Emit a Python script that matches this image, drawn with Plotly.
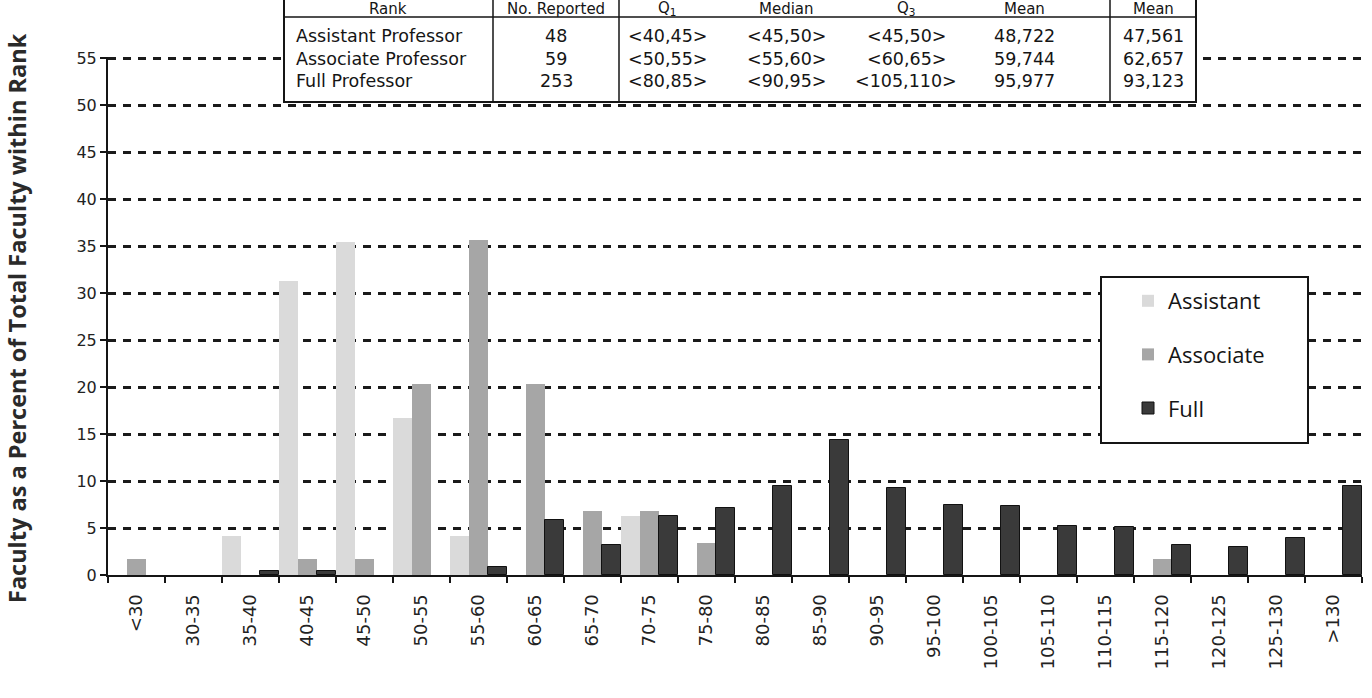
import html
import plotly.graph_objects as go

# Salary bands (thousands of dollars)
categories = ["<30", "30-35", "35-40", "40-45", "45-50", "50-55", "55-60", "60-65",
              "65-70", "70-75", "75-80", "80-85", "85-90", "90-95", "95-100",
              "100-105", "105-110", "110-115", "115-120", "120-125", "125-130", ">130"]

# Percent of faculty within each rank
assistant = [0, 0, 4.2, 31.3, 35.4, 16.7, 4.2, 0, 0, 6.3, 0,
             0, 0, 0, 0, 0, 0, 0, 0, 0, 0, 0]
associate = [1.7, 0, 0, 1.7, 1.7, 20.3, 35.6, 20.3, 6.8, 6.8, 3.4,
             0, 0, 0, 0, 0, 0, 0, 1.7, 0, 0, 0]
full = [0, 0, 0.4, 0.4, 0, 0, 0.8, 5.9, 3.2, 6.3, 7.1,
        9.5, 14.4, 9.3, 7.5, 7.3, 5.2, 5.1, 3.2, 3.0, 3.9, 9.5]

series_names = ["Assistant", "Associate", "Full"]
series_colors = ["#dadada", "#a6a6a6", "#3a3a3a"]

y_ticks = list(range(0, 56, 5))

# Summary table
table_header = ["Rank", "No. Reported", "Q<sub>1</sub>", "Median", "Q<sub>3</sub>", "Mean", "Mean"]
table_ranks = ["Assistant Professor", "Associate Professor", "Full Professor"]
table_counts = ["48", "59", "253"]
table_q1 = ["<40,45>", "<50,55>", "<80,85>"]
table_median = ["<45,50>", "<55,60>", "<90,95>"]
table_q3 = ["<45,50>", "<60,65>", "<105,110>"]
table_mean = ["48,722", "59,744", "95,977"]
table_mean2 = ["47,561", "62,657", "93,123"]

W, H = 1372, 698
ML, MR, MT, MB = 108, 10, 57, 123
PW = W - ML - MR
PH = H - MT - MB
FONT = "Open Sans, Noto Sans, sans-serif"
TABLE_FONT = "DejaVu Sans, sans-serif"
INK = "#151515"


def px_x(p):
    return (p - ML) / PW


def px_y(p):
    return (H - MB - p) / PH


fig = go.Figure()
for name, vals, color in zip(series_names, [assistant, associate, full], series_colors):
    is_full = name == "Full"
    fig.add_trace(go.Bar(
        x=categories,
        y=[v if v > 0 else None for v in vals],
        name=name, legendgroup=name,
        marker=dict(color=color,
                    line=dict(color="#111111" if is_full else color, width=1 if is_full else 0)),
    ))

shapes = []
annotations = []

# Table frame and rules
tx0, tx1, ty_top, ty_bot = 284, 1196, -10, 102
shapes.append(dict(type="rect", xref="paper", yref="paper",
                   x0=px_x(tx0), x1=px_x(tx1), y0=px_y(ty_bot), y1=px_y(ty_top),
                   fillcolor="white", line=dict(color=INK, width=2), layer="above"))
for vx in [493, 619, 1110]:
    shapes.append(dict(type="line", xref="paper", yref="paper",
                       x0=px_x(vx), x1=px_x(vx), y0=px_y(ty_bot), y1=px_y(ty_top),
                       line=dict(color=INK, width=1.5), layer="above"))
shapes.append(dict(type="line", xref="paper", yref="paper",
                   x0=px_x(tx0), x1=px_x(tx1), y0=px_y(17), y1=px_y(17),
                   line=dict(color=INK, width=1.5), layer="above"))

header_font = dict(family=TABLE_FONT, size=15, color=INK)
cell_font = dict(family=TABLE_FONT, size=17.5, color=INK)
col_centers = [388, 556, 667, 786, 906, 1024, 1153]
for cx, label in zip(col_centers, table_header):
    annotations.append(dict(xref="paper", yref="paper", x=px_x(cx), y=px_y(9),
                            text=label, showarrow=False, font=header_font,
                            xanchor="center", yanchor="middle"))

row_ys = [36, 58.5, 81]
columns = [table_counts, table_q1, table_median, table_q3, table_mean, table_mean2]
for r, ry in enumerate(row_ys):
    annotations.append(dict(xref="paper", yref="paper", x=px_x(294), y=px_y(ry),
                            text=html.escape(table_ranks[r]), showarrow=False, font=cell_font,
                            xanchor="left", yanchor="middle"))
    for cx, col in zip(col_centers[1:], columns):
        annotations.append(dict(xref="paper", yref="paper", x=px_x(cx), y=px_y(ry),
                                text=html.escape(col[r]), showarrow=False, font=cell_font,
                                xanchor="center", yanchor="middle"))

# Legend frame
shapes.append(dict(type="rect", xref="paper", yref="paper",
                   x0=px_x(1101), x1=px_x(1308), y0=px_y(443), y1=px_y(277),
                   fillcolor="white", line=dict(color=INK, width=2), layer="above"))

# Y-axis title
annotations.append(dict(xref="paper", yref="paper", x=px_x(17), y=px_y(318),
                        text="<b>Faculty as a Percent of Total Faculty within Rank</b>",
                        textangle=-90, showarrow=False,
                        font=dict(family=FONT, size=23.5, color="#2a2a2a"),
                        xanchor="center", yanchor="middle"))

fig.update_layout(
    width=W, height=H,
    margin=dict(l=ML, r=MR, t=MT, b=MB, pad=0),
    paper_bgcolor="white", plot_bgcolor="white",
    barmode="group", bargap=0, bargroupgap=0,
    showlegend=True,
    legend=dict(x=px_x(1128), y=px_y(280), xanchor="left", yanchor="top",
                bgcolor="rgba(0,0,0,0)", borderwidth=0,
                font=dict(family=FONT, size=22, color=INK),
                tracegroupgap=22, traceorder="grouped"),
    shapes=shapes,
    annotations=annotations,
    xaxis=dict(
        type="category", categoryorder="array", categoryarray=categories,
        tickson="boundaries", ticks="outside", ticklen=6, tickwidth=2, tickcolor=INK,
        tickangle=-90, showline=True, linecolor=INK, linewidth=2,
        showgrid=False, zeroline=False, ticklabelstandoff=10,
        tickfont=dict(family="DejaVu Sans, sans-serif", size=18, color="#222222"),
        range=[-0.5, len(categories) - 0.5],
    ),
    yaxis=dict(
        range=[0, 55.12], tickvals=y_ticks, ticks="outside", ticklen=6, tickwidth=2,
        tickcolor=INK, showline=True, linecolor=INK, linewidth=2,
        showgrid=True, gridcolor="#1a1a1a", gridwidth=3, griddash="8px,7px",
        zeroline=False,
        tickfont=dict(family="DejaVu Sans, sans-serif", size=16, color="#222222"),
    ),
)

fig.write_html("out.html")
